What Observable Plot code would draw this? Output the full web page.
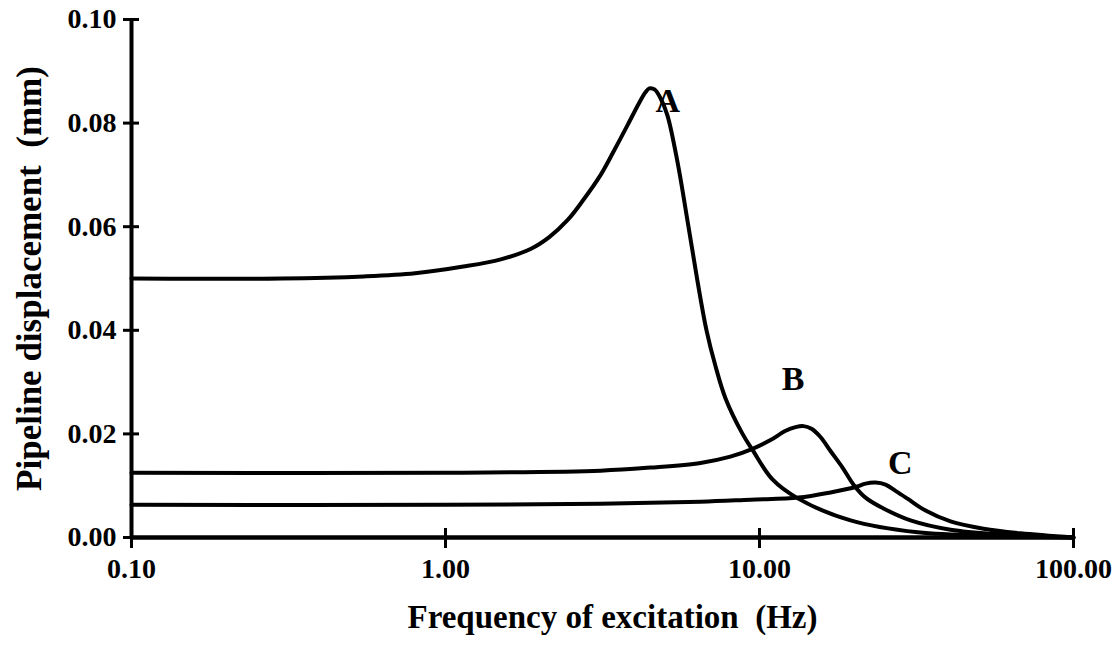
<!DOCTYPE html>
<html>
<head>
<meta charset="utf-8">
<script src="https://cdn.jsdelivr.net/npm/d3@7"></script>
<script src="https://cdn.jsdelivr.net/npm/@observablehq/plot@0.6"></script>
<style>
  html, body { margin: 0; padding: 0; background: #fff; }
</style>
</head>
<body>
<div id="chart"></div>
<script>
// Curve A
const freqA = [0.1, 0.3, 0.55, 0.8, 1.14, 1.5, 1.865, 2.14, 2.45, 2.75, 3.12, 3.45, 3.80, 4.12, 4.34, 4.46, 4.63, 4.84, 5.09, 5.48, 5.94, 6.35, 6.78, 7.24, 7.79, 8.83, 9.50, 11.0, 13.2, 19.5, 31.9, 58.5, 100];
const dispA = [0.0500, 0.0500, 0.0504, 0.0510, 0.0523, 0.0537, 0.0557, 0.0580, 0.0613, 0.0652, 0.0700, 0.0748, 0.0796, 0.0837, 0.0860, 0.0867, 0.0865, 0.0848, 0.0815, 0.0725, 0.0600, 0.0494, 0.0400, 0.0331, 0.0269, 0.0200, 0.0169, 0.0112, 0.0076, 0.0033, 0.0010, 0.0003, 0.0000];
// Curve B
const freqB = [0.1, 1, 3.12, 4.50, 6.49, 8.08, 9.50, 10.84, 12.11, 13.02, 13.81, 14.64, 15.64, 16.83, 18.38, 19.93, 21.76, 24.83, 30.27, 40.59, 58.55, 100];
const dispB = [0.0125, 0.0125, 0.0129, 0.0135, 0.0144, 0.0156, 0.0171, 0.0188, 0.0206, 0.0213, 0.0215, 0.0210, 0.0194, 0.0167, 0.0135, 0.0102, 0.0077, 0.0056, 0.0033, 0.0015, 0.0006, 0.0000];
// Curve C
const freqC = [0.1, 1, 3.12, 6.49, 9.36, 13.31, 16.83, 20.37, 21.76, 23.41, 25.19, 27.11, 29.60, 33.79, 40.59, 51.69, 67.8, 100];
const dispC = [0.0063, 0.0063, 0.0065, 0.0069, 0.0073, 0.0077, 0.0087, 0.0098, 0.0104, 0.0106, 0.0102, 0.0090, 0.0075, 0.0052, 0.0031, 0.0017, 0.0008, 0.0000];

// Curve labels
const curveNames = ["A", "B", "C"];
const curveLabelFreq = [5.1, 12.8, 28.1];
const curveLabelDisp = [0.0842, 0.0306, 0.0144];

// Axes
const xTicks = [0.1, 1, 10, 100];
const yTicks = [0, 0.02, 0.04, 0.06, 0.08, 0.10];
const xTitle = "Frequency of excitation\u00a0 (Hz)";
const yTitle = "Pipeline displacement\u00a0 (mm)";

const series = [
  ...freqA.map((f, i) => ({curve: "A", f, d: dispA[i]})),
  ...freqB.map((f, i) => ({curve: "B", f, d: dispB[i]})),
  ...freqC.map((f, i) => ({curve: "C", f, d: dispC[i]}))
];
const labels = curveNames.map((n, i) => ({n, f: curveLabelFreq[i], d: curveLabelDisp[i]}));

const chart = Plot.plot({
  width: 1120,
  height: 653,
  marginLeft: 131,
  marginRight: 47,
  marginTop: 19,
  marginBottom: 116,
  style: {
    fontFamily: "'Liberation Serif', 'Times New Roman', serif",
    fontWeight: "bold",
    fontSize: "28px",
    color: "black",
    background: "white"
  },
  x: {type: "log", domain: [0.1, 100]},
  y: {domain: [0, 0.1]},
  marks: [
    Plot.line(series, {x: "f", y: "d", z: "curve", stroke: "black", strokeWidth: 4, curve: "catmull-rom"}),
    Plot.ruleY([0], {stroke: "black", strokeWidth: 4.5}),
    Plot.ruleX([0.1], {stroke: "black", strokeWidth: 4}),
    Plot.axisX({ticks: xTicks, tickSize: 20, dy: -9, fill: "none", strokeWidth: 3, label: null}),
    Plot.axisX({ticks: xTicks, tickSize: 0, tickPadding: 21, fontSize: 28, tickFormat: d => d.toFixed(2), label: null}),
    Plot.axisY({ticks: yTicks, tickSize: 16, dx: 8, fill: "none", strokeWidth: 3, label: null}),
    Plot.axisY({ticks: yTicks, tickSize: 0, tickPadding: 15, fontSize: 28, tickFormat: d => d.toFixed(2), label: null}),
    Plot.text(labels, {x: "f", y: "d", text: "n", fontSize: 34, fontWeight: "bold"}),
    Plot.text([xTitle], {frameAnchor: "bottom", lineAnchor: "middle", textAnchor: "middle", dy: 80, dx: 10, fontSize: 33, fontWeight: "bold"}),
    Plot.text([yTitle], {frameAnchor: "left", lineAnchor: "middle", textAnchor: "middle", rotate: -90, dx: -102, fontSize: 35, fontWeight: "bold"})
  ]
});
document.getElementById("chart").appendChild(chart);
</script>
</body>
</html>
